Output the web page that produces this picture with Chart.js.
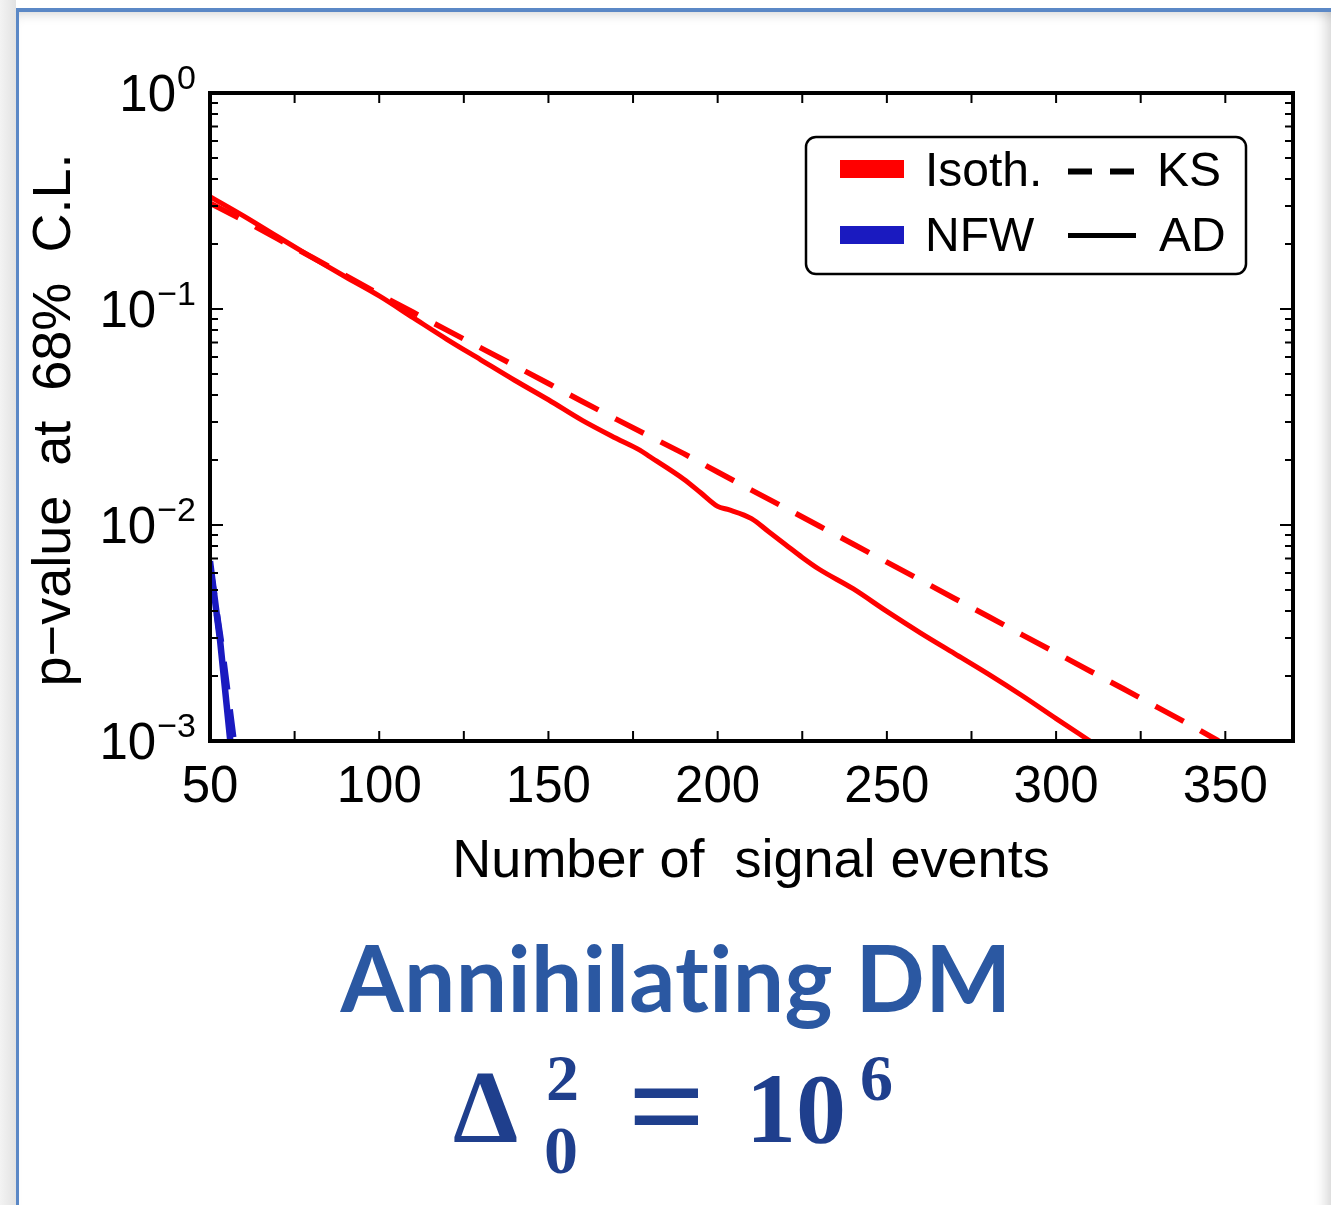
<!DOCTYPE html>
<html>
<head>
<meta charset="utf-8">
<title>p-value vs number of signal events</title>
<script src="https://cdn.jsdelivr.net/npm/chart.js@4.4.0/dist/chart.umd.min.js"></script>
<style>
html, body { margin: 0; padding: 0; background: #ffffff; }
body { width: 1331px; height: 1205px; position: relative; overflow: hidden; }
#side { position: absolute; left: 0; top: 0; width: 16px; height: 1205px; background: linear-gradient(to right, #f3f3f3, #e2e2e2); }
#panel {
    position: absolute; left: 16px; top: 8px; width: 1315px; height: 1205px; box-sizing: border-box;
    border-left: 3px solid #5b88c6; border-top: 4px solid #5b88c6;
    box-shadow: inset 0 10px 12px -8px rgba(0, 0, 0, 0.16), inset -14px 0 12px -8px rgba(0, 0, 0, 0.14);
}
#chart-box { position: absolute; left: 0; top: 0; width: 1331px; height: 900px; }
#caption { position: absolute; left: 0; top: 0; }
#caption text { font-variant-ligatures: none; font-feature-settings: "liga" 0, "clig" 0; }
</style>
</head>
<body>
<div id="side"></div>
<div id="panel"></div>
<div id="chart-box"><canvas id="pvalue-chart" width="1331" height="900"></canvas></div>
<svg id="caption" width="1331" height="1205" xmlns="http://www.w3.org/2000/svg">
    <text x="676" y="1012" text-anchor="middle" font-family="Lato" font-weight="700" font-size="91" letter-spacing="0.4" fill="#2b58a2">Annihilating DM</text>
    <g font-family="Liberation Serif, serif" font-weight="700" fill="#1f3f8d">
        <text x="453" y="1142" font-size="104">Δ</text>
        <text x="546" y="1100" font-size="66">2</text>
        <text x="544" y="1173" font-size="68">0</text>
        <text x="628" y="1152" font-size="136">=</text>
        <text x="746" y="1142" font-size="100">10</text>
        <text x="860" y="1100" font-size="66">6</text>
    </g>
</svg>
<script>
// Isothermal profile, Anderson-Darling (solid)
const isothAdEvents = [50, 60, 70, 80, 90, 100, 110, 120, 130, 140, 150, 160, 170, 177, 180, 190, 195, 200, 203, 210, 215, 220, 225, 230, 240, 250, 260, 270, 280, 290, 300, 310];
const isothAdPvalue = [0.331, 0.269, 0.216, 0.174, 0.141, 0.115, 0.0912, 0.0724, 0.0582, 0.0468, 0.0380, 0.0305, 0.0252, 0.0222, 0.0207, 0.0163, 0.0141, 0.0122, 0.0118, 0.0107, 0.00933, 0.00813, 0.00708, 0.00624, 0.00507, 0.00398, 0.00316, 0.00254, 0.00204, 0.00162, 0.00127, 0.00100];

// Isothermal profile, Kolmogorov-Smirnov (dashed)
const isothKsEvents = [50, 60, 70, 80, 90, 100, 110, 120, 130, 140, 150, 160, 170, 180, 190, 200, 210, 220, 230, 240, 250, 260, 270, 280, 290, 300, 310, 320, 330, 340, 348];
const isothKsPvalue = [0.309, 0.257, 0.211, 0.174, 0.143, 0.117, 0.0966, 0.0798, 0.0661, 0.0547, 0.0452, 0.0373, 0.0309, 0.0257, 0.0214, 0.0176, 0.0145, 0.0120, 0.00989, 0.00817, 0.00673, 0.00555, 0.00457, 0.00377, 0.00310, 0.00256, 0.00211, 0.00174, 0.00143, 0.00118, 0.00100];

// NFW profile
const nfwAdEvents = [50, 53, 56];
const nfwAdPvalue = [0.0068, 0.0029, 0.0010];
const nfwKsEvents = [50, 53.5, 57];
const nfwKsPvalue = [0.0064, 0.0027, 0.0010];

// axes
const xTicks = [50, 75, 100, 125, 150, 175, 200, 225, 250, 275, 300, 325, 350];
const xTickLabels = [50, 100, 150, 200, 250, 300, 350];
const yDecades = [1, 0.1, 0.01, 0.001];
const yDecadeExponents = ['0', '\u22121', '\u22122', '\u22123'];
const yMinorTicks = [0.002, 0.003, 0.004, 0.005, 0.006, 0.007, 0.008, 0.009,
    0.02, 0.03, 0.04, 0.05, 0.06, 0.07, 0.08, 0.09,
    0.2, 0.3, 0.4, 0.5, 0.6, 0.7, 0.8, 0.9];

const RED = '#ff0000';
const BLUE = '#1a1ac0';
const SANS = '"Liberation Sans", Arial, sans-serif';

function points(xs, ys) {
    return xs.map((x, i) => ({ x: x, y: ys[i] }));
}

// frame with inward ticks, tick labels and axis titles
const framePlugin = {
    id: 'framePlugin',
    afterDatasetsDraw(chart) {
        const { ctx, chartArea: area } = chart;
        const xs = chart.scales.x;
        const ys = chart.scales.y;
        ctx.save();
        ctx.strokeStyle = '#000';
        ctx.fillStyle = '#000';

        ctx.lineWidth = 2;
        ctx.beginPath();
        xTicks.forEach(v => {
            const px = xs.getPixelForValue(v);
            ctx.moveTo(px, area.bottom);
            ctx.lineTo(px, area.bottom - 10);
            ctx.moveTo(px, area.top);
            ctx.lineTo(px, area.top + 10);
        });
        yDecades.forEach(v => {
            const py = ys.getPixelForValue(v);
            ctx.moveTo(area.left, py);
            ctx.lineTo(area.left + 13, py);
            ctx.moveTo(area.right, py);
            ctx.lineTo(area.right - 13, py);
        });
        yMinorTicks.forEach(v => {
            const py = ys.getPixelForValue(v);
            ctx.moveTo(area.left, py);
            ctx.lineTo(area.left + 8, py);
            ctx.moveTo(area.right, py);
            ctx.lineTo(area.right - 8, py);
        });
        ctx.stroke();

        ctx.lineWidth = 4;
        ctx.strokeRect(area.left, area.top, area.right - area.left, area.bottom - area.top);

        // x tick labels
        ctx.font = '51px ' + SANS;
        ctx.textAlign = 'center';
        ctx.textBaseline = 'alphabetic';
        xTickLabels.forEach(v => {
            ctx.fillText(String(v), xs.getPixelForValue(v), area.bottom + 61);
        });

        // y tick labels 10^n
        ctx.textAlign = 'left';
        yDecades.forEach((v, i) => {
            const py = ys.getPixelForValue(v);
            ctx.font = '34px ' + SANS;
            const supW = ctx.measureText(yDecadeExponents[i]).width;
            ctx.font = '51px ' + SANS;
            const baseW = ctx.measureText('10').width;
            const x0 = area.left - 14 - supW - baseW - 1;
            ctx.fillText('10', x0, py + 18);
            ctx.font = '34px ' + SANS;
            ctx.fillText(yDecadeExponents[i], x0 + baseW + 1, py - 4);
        });

        // axis titles
        ctx.font = '54px ' + SANS;
        ctx.textAlign = 'center';
        ctx.fillText('Number of  signal events', 751, 877);
        ctx.save();
        ctx.translate(70, 420);
        ctx.rotate(-Math.PI / 2);
        ctx.fillText('p\u2212value  at  68%  C.L.', 0, 0);
        ctx.restore();

        ctx.restore();
    }
};

// 2x2 legend: colour = profile, line style = test
const legendPlugin = {
    id: 'legendPlugin',
    afterDraw(chart) {
        const ctx = chart.ctx;
        ctx.save();
        const bx = 806, by = 137, bw = 440, bh = 137, r = 10;
        ctx.beginPath();
        ctx.roundRect(bx, by, bw, bh, r);
        ctx.fillStyle = '#fff';
        ctx.fill();
        ctx.lineWidth = 2.5;
        ctx.strokeStyle = '#000';
        ctx.stroke();

        ctx.fillStyle = RED;
        ctx.fillRect(840, 160, 64, 18);
        ctx.fillStyle = BLUE;
        ctx.fillRect(840, 226, 64, 18);

        ctx.strokeStyle = '#000';
        ctx.lineWidth = 6;
        ctx.setLineDash([24, 18]);
        ctx.beginPath();
        ctx.moveTo(1068, 171.5);
        ctx.lineTo(1136, 171.5);
        ctx.stroke();
        ctx.setLineDash([]);
        ctx.lineWidth = 5;
        ctx.beginPath();
        ctx.moveTo(1068, 235.5);
        ctx.lineTo(1136, 235.5);
        ctx.stroke();

        ctx.fillStyle = '#000';
        ctx.font = '48px ' + SANS;
        ctx.textAlign = 'left';
        ctx.textBaseline = 'alphabetic';
        ctx.fillText('Isoth.', 925, 186);
        ctx.fillText('KS', 1157, 186);
        ctx.fillText('NFW', 925, 251);
        ctx.fillText('AD', 1159, 251);
        ctx.restore();
    }
};

const ctx = document.getElementById('pvalue-chart');
new Chart(ctx, {
    type: 'line',
    data: {
        datasets: [
            {
                label: 'NFW KS',
                data: points(nfwKsEvents, nfwKsPvalue),
                borderColor: BLUE,
                borderWidth: 6.5,
                borderDash: [28, 20]
            },
            {
                label: 'NFW AD',
                data: points(nfwAdEvents, nfwAdPvalue),
                borderColor: BLUE,
                borderWidth: 6.5
            },
            {
                label: 'Isoth. KS',
                data: points(isothKsEvents, isothKsPvalue),
                borderColor: RED,
                borderWidth: 5.5,
                borderDash: [32, 19]
            },
            {
                label: 'Isoth. AD',
                data: points(isothAdEvents, isothAdPvalue),
                borderColor: RED,
                borderWidth: 5,
                cubicInterpolationMode: 'monotone'
            }
        ]
    },
    options: {
        responsive: false,
        animation: false,
        events: [],
        layout: {
            padding: { left: 210, right: 38, top: 93, bottom: 159 }
        },
        elements: {
            point: { radius: 0 },
            line: { tension: 0, fill: false, borderCapStyle: 'butt', borderJoinStyle: 'round' }
        },
        scales: {
            x: {
                type: 'linear',
                display: false,
                min: 50,
                max: 370
            },
            y: {
                type: 'logarithmic',
                display: false,
                min: 0.001,
                max: 1
            }
        },
        plugins: {
            legend: { display: false },
            tooltip: { enabled: false }
        }
    },
    plugins: [framePlugin, legendPlugin]
});
</script>
</body>
</html>
